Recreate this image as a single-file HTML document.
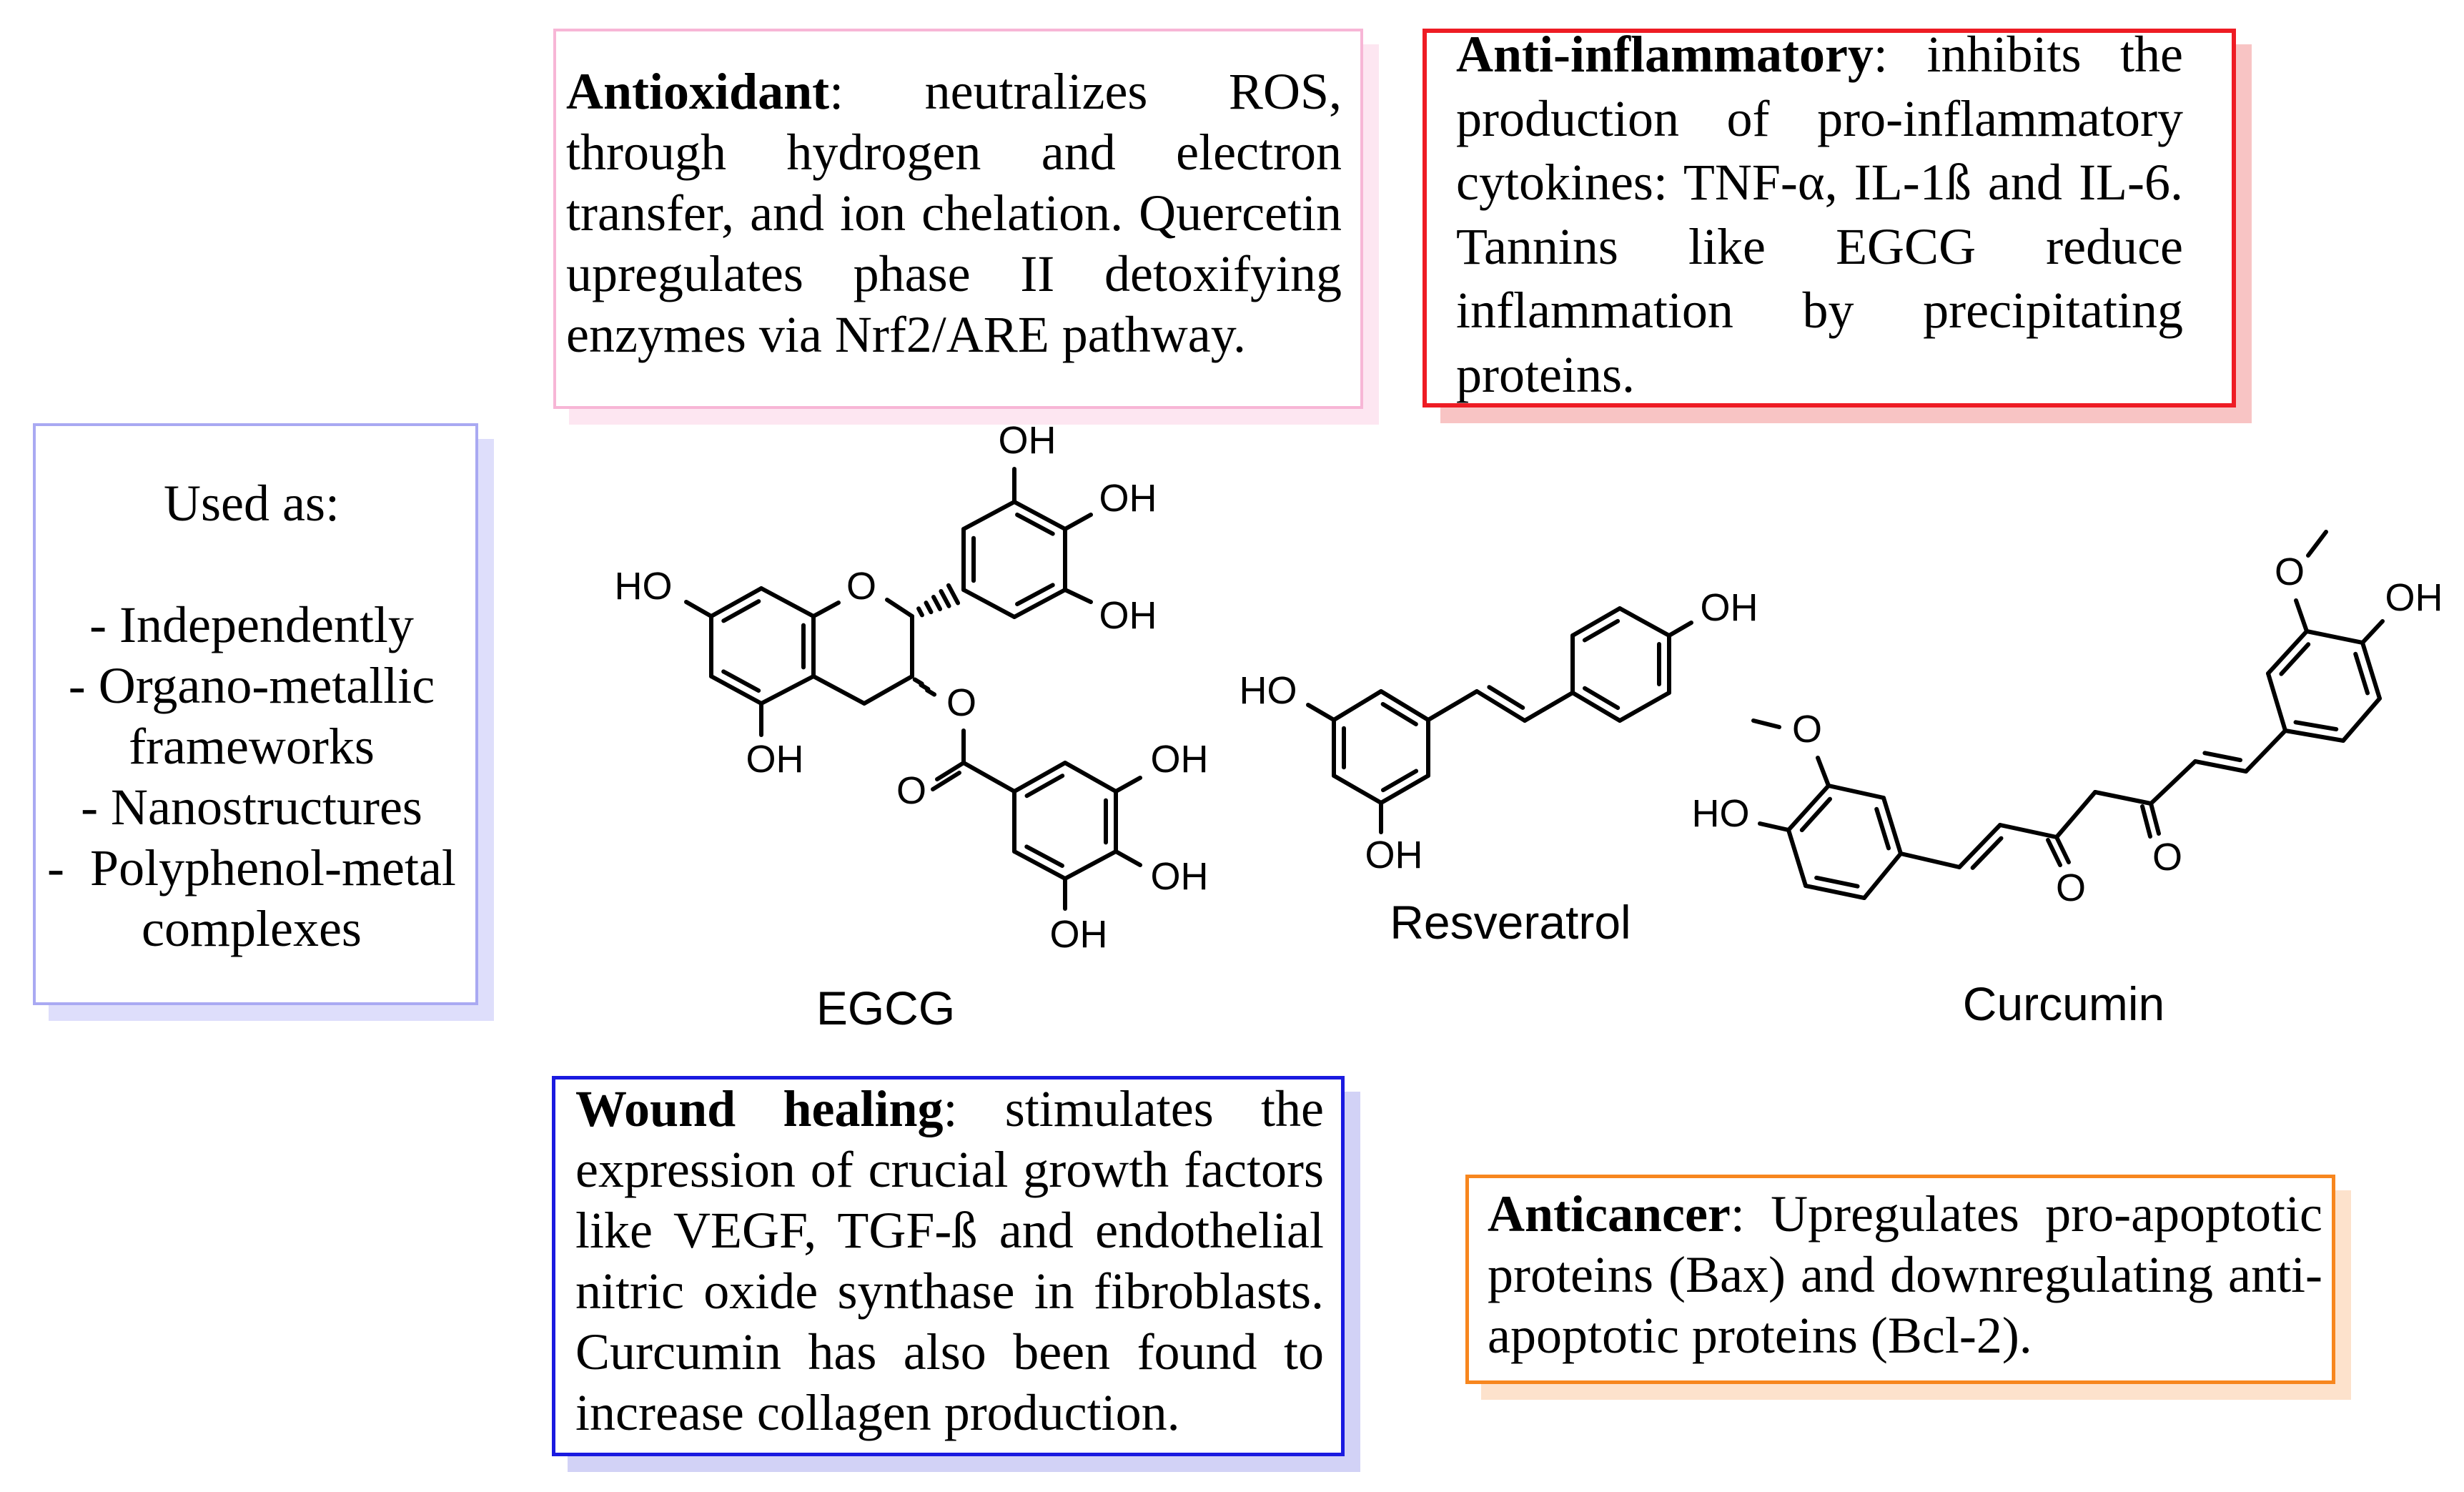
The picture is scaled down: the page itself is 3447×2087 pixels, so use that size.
<!DOCTYPE html>
<html><head><meta charset="utf-8">
<style>
html,body{margin:0;padding:0;background:#fff;}
#root{position:relative;width:3447px;height:2087px;overflow:hidden;background:#fff;}
.box{position:absolute;box-sizing:border-box;background:#fff;}
.sh{position:absolute;}
.txt{position:absolute;font-family:"Liberation Serif",serif;font-size:72px;color:#000;}
.txt div{white-space:nowrap;text-align:justify;text-align-last:justify;}
.txt div.l{text-align-last:left;}
.txt.c div{text-align:center;text-align-last:center;}
svg{position:absolute;left:0;top:0;}
</style></head><body>
<div id="root">
<div class="sh" style="left:796px;top:62px;width:1133px;height:532px;background:#fde6f1"></div>
<div class="sh" style="left:2015px;top:62px;width:1135px;height:530px;background:#f8c4c4"></div>
<div class="sh" style="left:68px;top:614px;width:623px;height:814px;background:#dedefb"></div>
<div class="sh" style="left:794px;top:1527px;width:1109px;height:532px;background:#d2d2f6"></div>
<div class="sh" style="left:2072px;top:1665px;width:1217px;height:293px;background:#fde2cc"></div>
<div class="box" style="left:774px;top:40px;width:1133px;height:532px;border:4px solid #f7b6d6"></div>
<div class="box" style="left:1990px;top:40px;width:1138px;height:530px;border:6px solid #ee1c24"></div>
<div class="box" style="left:46px;top:592px;width:623px;height:814px;border:4px solid #a9a9f2"></div>
<div class="box" style="left:772px;top:1505px;width:1109px;height:532px;border:5px solid #1a1ae0"></div>
<div class="box" style="left:2050px;top:1643px;width:1217px;height:293px;border:5px solid #f7861e"></div>

<div class="txt" style="left:792px;top:86px;width:1085px;line-height:85px">
<div><b>Antioxidant</b>: neutralizes ROS,</div>
<div>through hydrogen and electron</div>
<div>transfer, and ion chelation. Quercetin</div>
<div>upregulates phase II detoxifying</div>
<div class="l">enzymes via Nrf2/ARE pathway.</div>
</div>

<div class="txt" style="left:2037px;top:32px;width:1017px;line-height:89.5px">
<div><b>Anti-inflammatory</b>: inhibits the</div>
<div>production of pro-inflammatory</div>
<div>cytokines: TNF-α, IL-1ß and IL-6.</div>
<div>Tannins like EGCG reduce</div>
<div>inflammation by precipitating</div>
<div class="l">proteins.</div>
</div>

<div class="txt c" style="left:52px;top:662px;width:600px;line-height:85px">
<div>Used as:</div>
<div>&nbsp;</div>
<div>- Independently</div>
<div>- Organo-metallic</div>
<div>frameworks</div>
<div>- Nanostructures</div>
<div>-&nbsp; Polyphenol-metal</div>
<div>complexes</div>
</div>

<div class="txt" style="left:805px;top:1509px;width:1047px;line-height:85px">
<div><b>Wound healing</b>: stimulates the</div>
<div>expression of crucial growth factors</div>
<div>like VEGF, TGF-ß and endothelial</div>
<div>nitric oxide synthase in fibroblasts.</div>
<div>Curcumin has also been found to</div>
<div class="l">increase collagen production.</div>
</div>

<div class="txt" style="left:2081px;top:1656px;width:1168px;line-height:85px">
<div><b>Anticancer</b>: Upregulates pro-apoptotic</div>
<div>proteins (Bax) and downregulating anti-</div>
<div class="l">apoptotic proteins (Bcl-2).</div>
</div>

<svg id="mol" width="3447" height="2087" viewBox="0 0 3447 2087" xmlns="http://www.w3.org/2000/svg"
 font-family="Liberation Sans, Arial, sans-serif" fill="#000">
<g id="bonds" stroke="#000" stroke-width="6" stroke-linecap="round" fill="none"></g>
<g font-size="54" text-anchor="middle" dominant-baseline="central">
<text x="900" y="820">HO</text>
<text x="1084" y="1062">OH</text>
<text x="1205" y="820">O</text>
<text x="1437" y="616">OH</text>
<text x="1578" y="697">OH</text>
<text x="1578" y="861">OH</text>
<text x="1345" y="983">O</text>
<text x="1275" y="1106">O</text>
<text x="1650" y="1062">OH</text>
<text x="1650" y="1226">OH</text>
<text x="1509" y="1307">OH</text>
<text x="1774" y="966">HO</text>
<text x="1950" y="1196">OH</text>
<text x="2419" y="850">OH</text>
<text x="2528" y="1020">O</text>
<text x="2407" y="1138">HO</text>
<text x="2897" y="1242">O</text>
<text x="3032" y="1199">O</text>
<text x="3203" y="800">O</text>
<text x="3377" y="836">OH</text>
</g>
<g font-size="66" text-anchor="middle" dominant-baseline="central">
<text x="1239" y="1410">EGCG</text>
<text x="2113" y="1290">Resveratrol</text>
<text x="2887" y="1404">Curcumin</text>
</g>
</svg>
</div>
<script>
(function(){
var g=document.getElementById('bonds'),NS='http://www.w3.org/2000/svg';
function L(a,b,c,d){var e=document.createElementNS(NS,'line');e.setAttribute('x1',a);e.setAttribute('y1',b);e.setAttribute('x2',c);e.setAttribute('y2',d);g.appendChild(e);}
function inner(a,b,cx,cy){
 var mx=(a[0]+b[0])/2,my=(a[1]+b[1])/2,dx=b[0]-a[0],dy=b[1]-a[1],len=Math.hypot(dx,dy);
 var nx=-dy/len,ny=dx/len; if((cx-mx)*nx+(cy-my)*ny<0){nx=-nx;ny=-ny;}
 var d=14,s=0.15;
 L(a[0]+dx*s+nx*d,a[1]+dy*s+ny*d,b[0]-dx*s+nx*d,b[1]-dy*s+ny*d);}
function ring(p,dbl){var cx=0,cy=0;p.forEach(function(q){cx+=q[0];cy+=q[1];});cx/=6;cy/=6;
 for(var i=0;i<6;i++)L(p[i][0],p[i][1],p[(i+1)%6][0],p[(i+1)%6][1]);
 dbl.forEach(function(i){inner(p[i],p[(i+1)%6],cx,cy);});}
function dbl2(a,b,sx,sy){L(a[0],a[1],b[0],b[1]);inner(a,b,(a[0]+b[0])/2+sx,(a[1]+b[1])/2+sy);}
var A=[[1065,823],[1138,862],[1138,946],[1065,984],[995,946],[995,862]];
ring(A,[1,3,5]);
L(995,862,960,842);L(1065,984,1065,1028);
L(1138,862,1173,843);L(1241,839,1276,862);L(1276,862,1276,946);L(1276,946,1209,984);L(1209,984,1138,946);
for(var k=1;k<=5;k++){var t=k/6,x=1276+(1345-1276)*t,y=862+(825-862)*t,h=3+k*2.2;L(x-h*0.47,y-h*0.88,x+h*0.47,y+h*0.88);}
var B=[[1348,825],[1348,740],[1419,702],[1490,740],[1490,825],[1419,863]];
ring(B,[0,2,4]);
L(1419,702,1419,656);L(1490,740,1526,720);L(1490,825,1526,842);
for(var k=1;k<=3;k++){var t=k/4,x=1276+(1305-1276)*t*1.2,y=946+(971-946)*t*1.2;L(x-5,y-3,x+5,y+3);}
L(1348,1022,1348,1067);
L(1348,1067,1311,1090);L(1342,1081,1305,1104);
L(1348,1067,1419,1107);
var C=[[1419,1107],[1490,1067],[1561,1107],[1561,1191],[1490,1229],[1419,1191]];
ring(C,[0,2,4]);
L(1561,1107,1595,1088);L(1561,1191,1595,1210);L(1490,1229,1490,1271);
var R1=[[1866,1007],[1932,967],[1998,1007],[1998,1085],[1932,1123],[1866,1085]];
ring(R1,[1,3,5]);
L(1866,1007,1830,986);L(1932,1123,1932,1164);
L(1998,1007,2066,967);dbl2([2066,967],[2133,1008],10,-20);L(2133,1008,2200,969);
var R2=[[2200,969],[2200,889],[2266,851],[2335,889],[2335,969],[2266,1008]];
ring(R2,[1,3,5]);
L(2335,889,2366,871);
var CL=[[2558,1099],[2635,1116],[2659,1194],[2608,1256],[2526,1239],[2502,1161]];
ring(CL,[1,3,5]);
L(2558,1099,2543,1060);L(2489,1017,2453,1008);L(2502,1161,2462,1152);
L(2659,1194,2741,1213);dbl2([2741,1213],[2798,1154],20,10);L(2798,1154,2877,1171);
L(2877,1171,2931,1108);L(2931,1108,3009,1124);L(3009,1124,3071,1065);
dbl2([3071,1065],[3142,1079],-5,-20);L(3142,1079,3197,1022);
L(2877,1171,2894,1206);L(2865,1175,2882,1210);
L(3009,1124,3020,1166);L(2997,1128,3008,1170);
var CR=[[3197,1022],[3278,1036],[3329,977],[3305,899],[3227,883],[3173,942]];
ring(CR,[0,2,4]);
L(3305,899,3333,869);L(3227,883,3212,840);L(3229,777,3254,744);
})();
</script>
</body></html>
